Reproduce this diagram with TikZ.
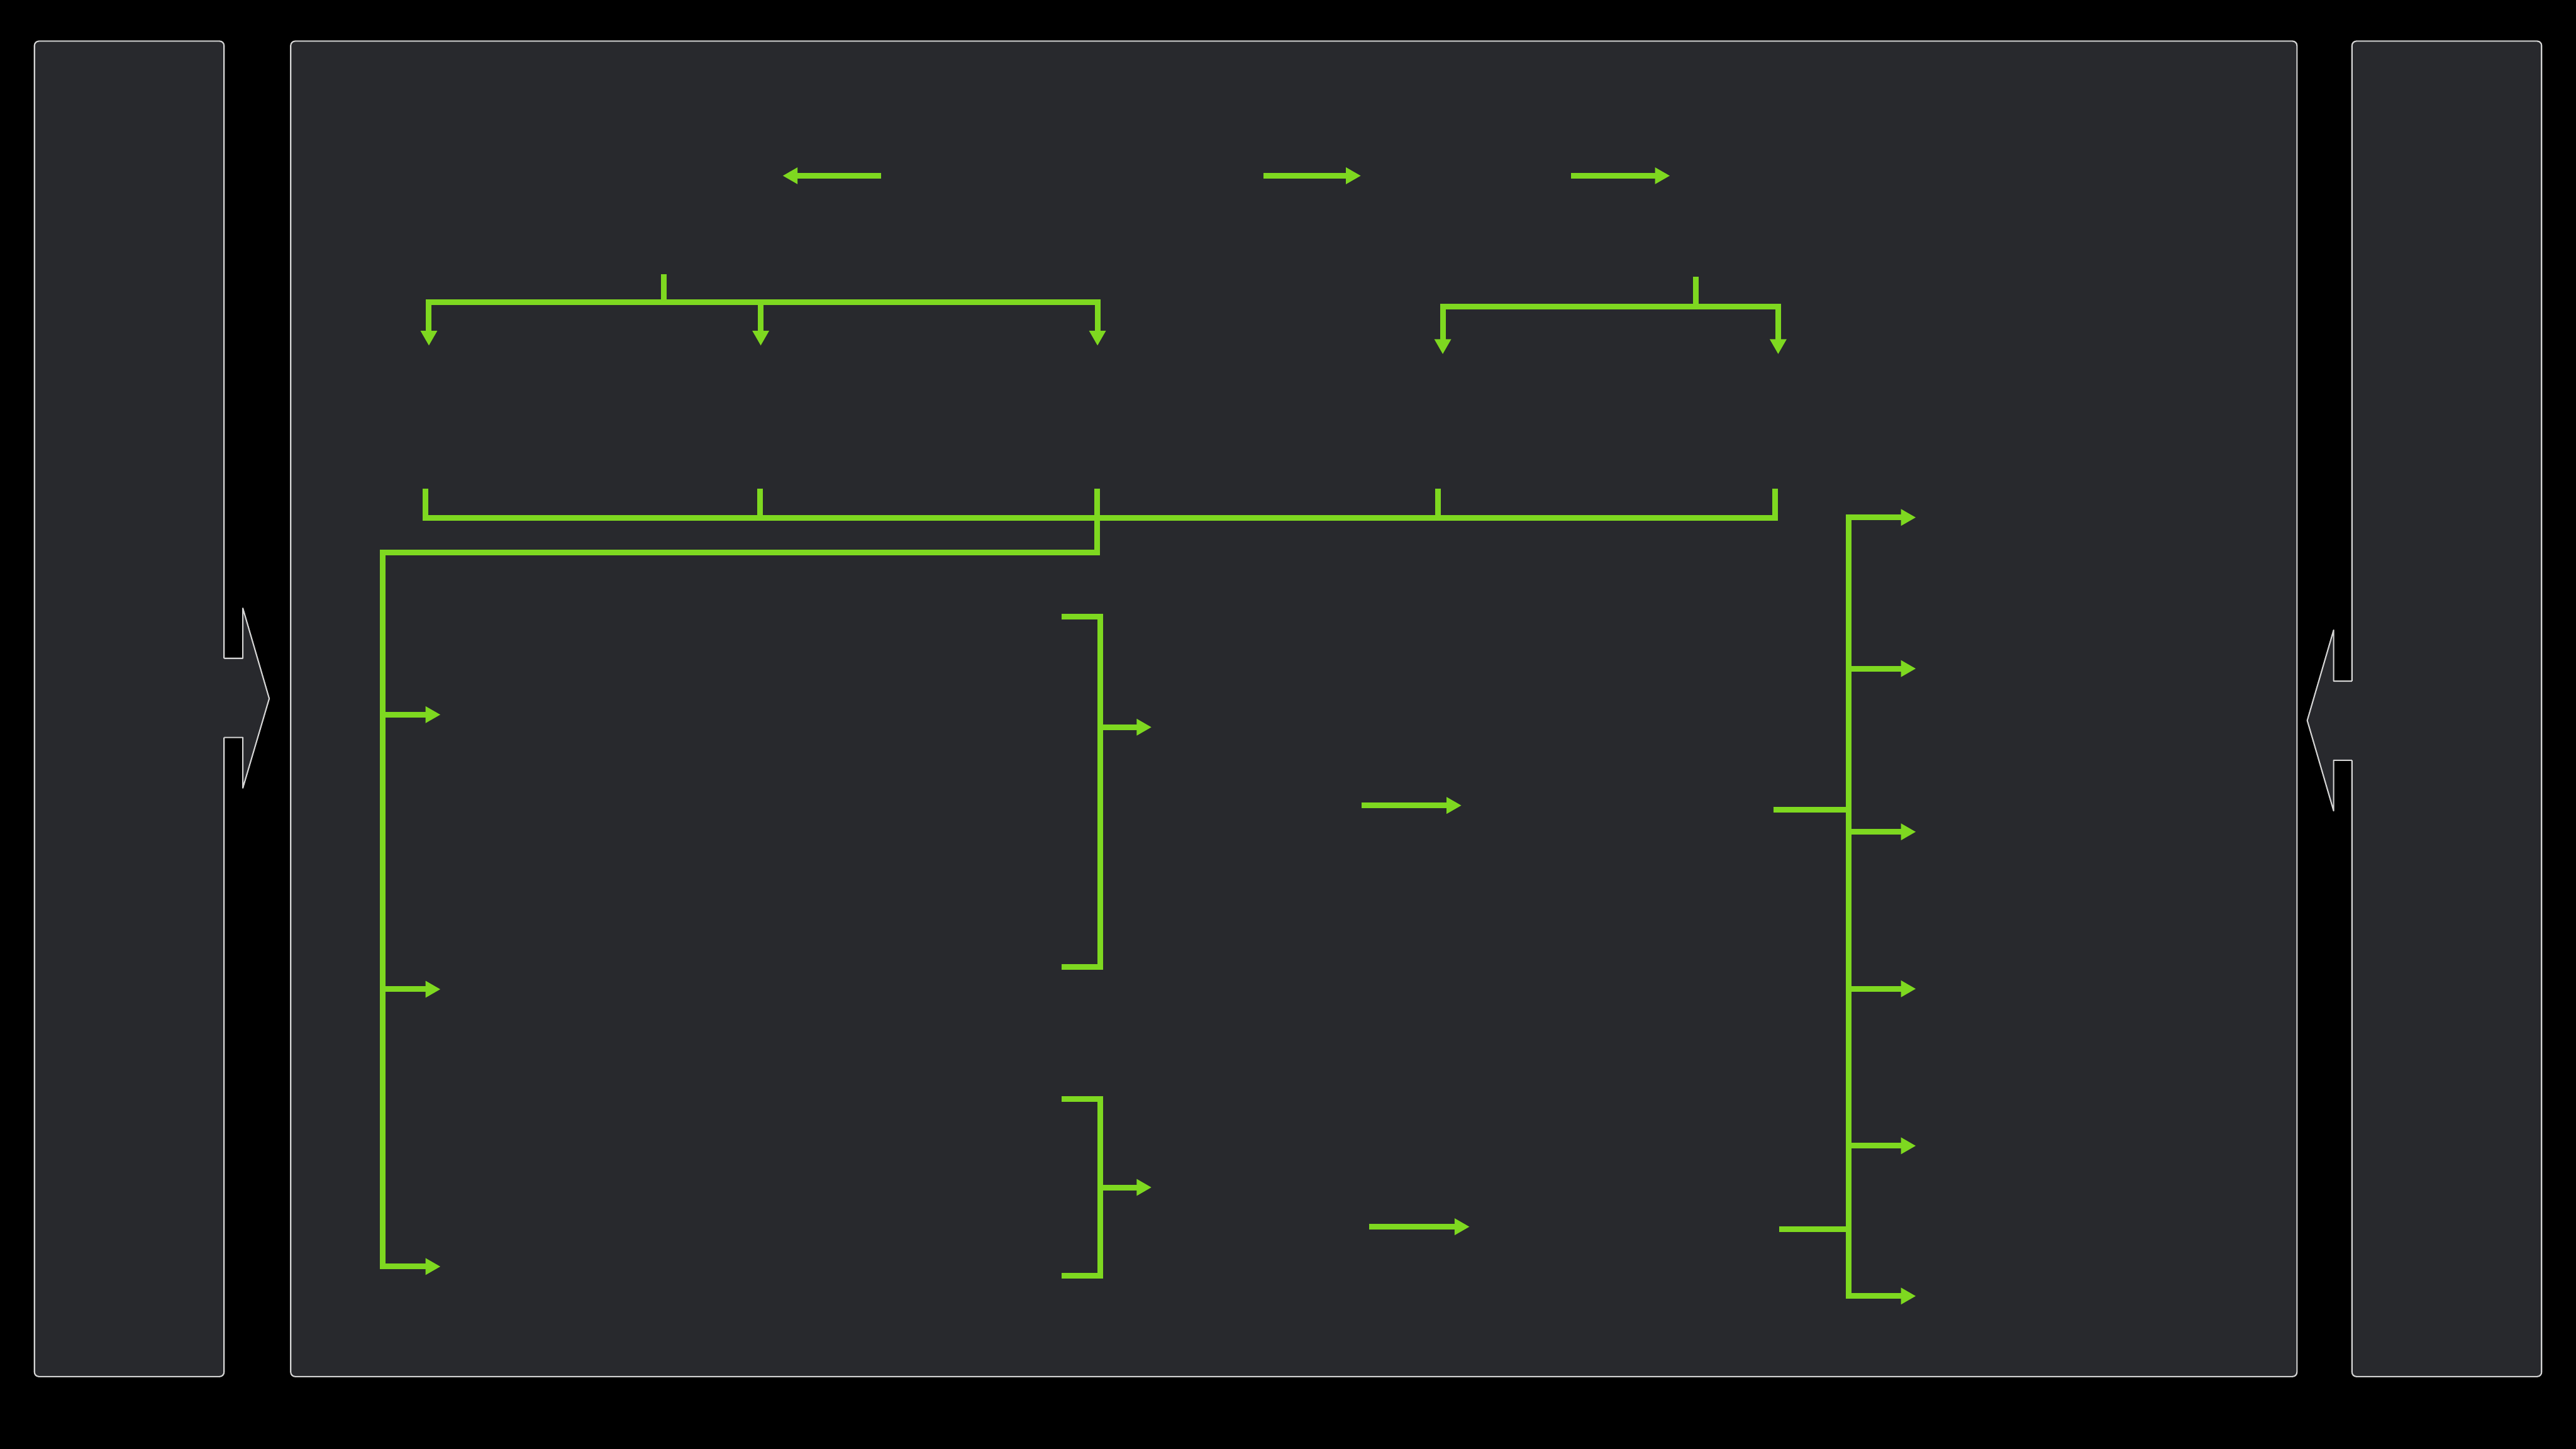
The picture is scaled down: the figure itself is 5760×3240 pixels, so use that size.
\documentclass[tikz,border=0pt]{standalone}
\usepackage{tikz}
\usetikzlibrary{arrows.meta}
\usepackage{xcolor}
\definecolor{panelgray}{RGB}{40,41,45}
\definecolor{edgegray}{RGB}{212,212,212}
\definecolor{flowgreen}{RGB}{126,216,32}

\begin{document}
\begin{tikzpicture}[x=0.01cm, y=-0.01cm,
    panel/.style={draw=edgegray, fill=panelgray, line width=0.85pt, rounded corners=1mm},
    notch/.style={draw=edgegray, line width=0.85pt, line join=round},
    flow/.style={draw=flowgreen, line width=3.6pt},
    flowarrow/.style={flow, -{Triangle[length=9.5pt, width=10pt]}}]
    \fill[black] (0,0) rectangle (5760,3240);
    \useasboundingbox (0,0) rectangle (5760,3240);
    % side and main panels
    \draw[panel] (77,92) rectangle (501,3078);
    \draw[panel] (650,92) rectangle (5136,3078);
    \draw[panel] (5259,92) rectangle (5683,3078);
    % arrow out of the left panel
    \fill[panelgray] (490,1472) -- (543,1472) -- (543,1360) -- (602,1562)
      -- (543,1762) -- (543,1649) -- (490,1649) -- cycle;
    \draw[notch] (501,1472) -- (543,1472) -- (543,1360) -- (602,1562)
      -- (543,1762) -- (543,1649) -- (501,1649);
    % arrow out of the right panel
    \fill[panelgray] (5270,1523) -- (5218,1523) -- (5218,1409) -- (5159,1611)
      -- (5218,1813) -- (5218,1700) -- (5270,1700) -- cycle;
    \draw[notch] (5259,1523) -- (5218,1523) -- (5218,1409) -- (5159,1611)
      -- (5218,1813) -- (5218,1700) -- (5259,1700);
    % top row
    \draw[flowarrow] (1970,393) -- (1750,393);
    \draw[flowarrow] (2825,393) -- (3043,393);
    \draw[flowarrow] (3513,393) -- (3734,393);
    % split brackets
    \draw[flow] (1484,613) -- (1484,676);
    \draw[flowarrow] (1484,676) -| (959,773);
    \draw[flowarrow] (1484,676) -| (2454,773);
    \draw[flowarrow] (1701,676) -- (1701,773);
    \draw[flow] (3792,619) -- (3792,685);
    \draw[flowarrow] (3792,685) -| (3226,792);
    \draw[flowarrow] (3792,685) -| (3976,792);
    % collecting bar
    \draw[flow] (951,1092) |- (3969,1158) -- (3969,1092);
    \foreach \x in {1699,2453,3216}
      \draw[flow] (\x,1092) -- (\x,1158);
    % left bus
    \draw[flowarrow] (2453,1158) |- (855,1235) -- (855,2832) -- (985,2832);
    \foreach \y in {1598,2212}
      \draw[flowarrow] (855,\y) -- (985,\y);
    % brackets
    \draw[flow] (2374,1379) -| (2460,2162) -- (2374,2162);
    \draw[flowarrow] (2460,1626) -- (2575,1626);
    \draw[flow] (2374,2458) -| (2460,2852) -- (2374,2852);
    \draw[flowarrow] (2460,2655) -- (2575,2655);
    % middle arrows
    \draw[flowarrow] (3044,1801) -- (3268,1801);
    \draw[flowarrow] (3061,2743) -- (3286,2743);
    % right bus
    \draw[flowarrow] (4134,2000) |- (4284,1157);
    \draw[flowarrow] (4134,2000) |- (4284,2898);
    \foreach \y in {1495,1860,2211,2562}
      \draw[flowarrow] (4134,\y) -- (4284,\y);
    \draw[flow] (3965,1811) -- (4134,1811);
    \draw[flow] (3978,2748) -- (4134,2748);
\end{tikzpicture}
\end{document}
